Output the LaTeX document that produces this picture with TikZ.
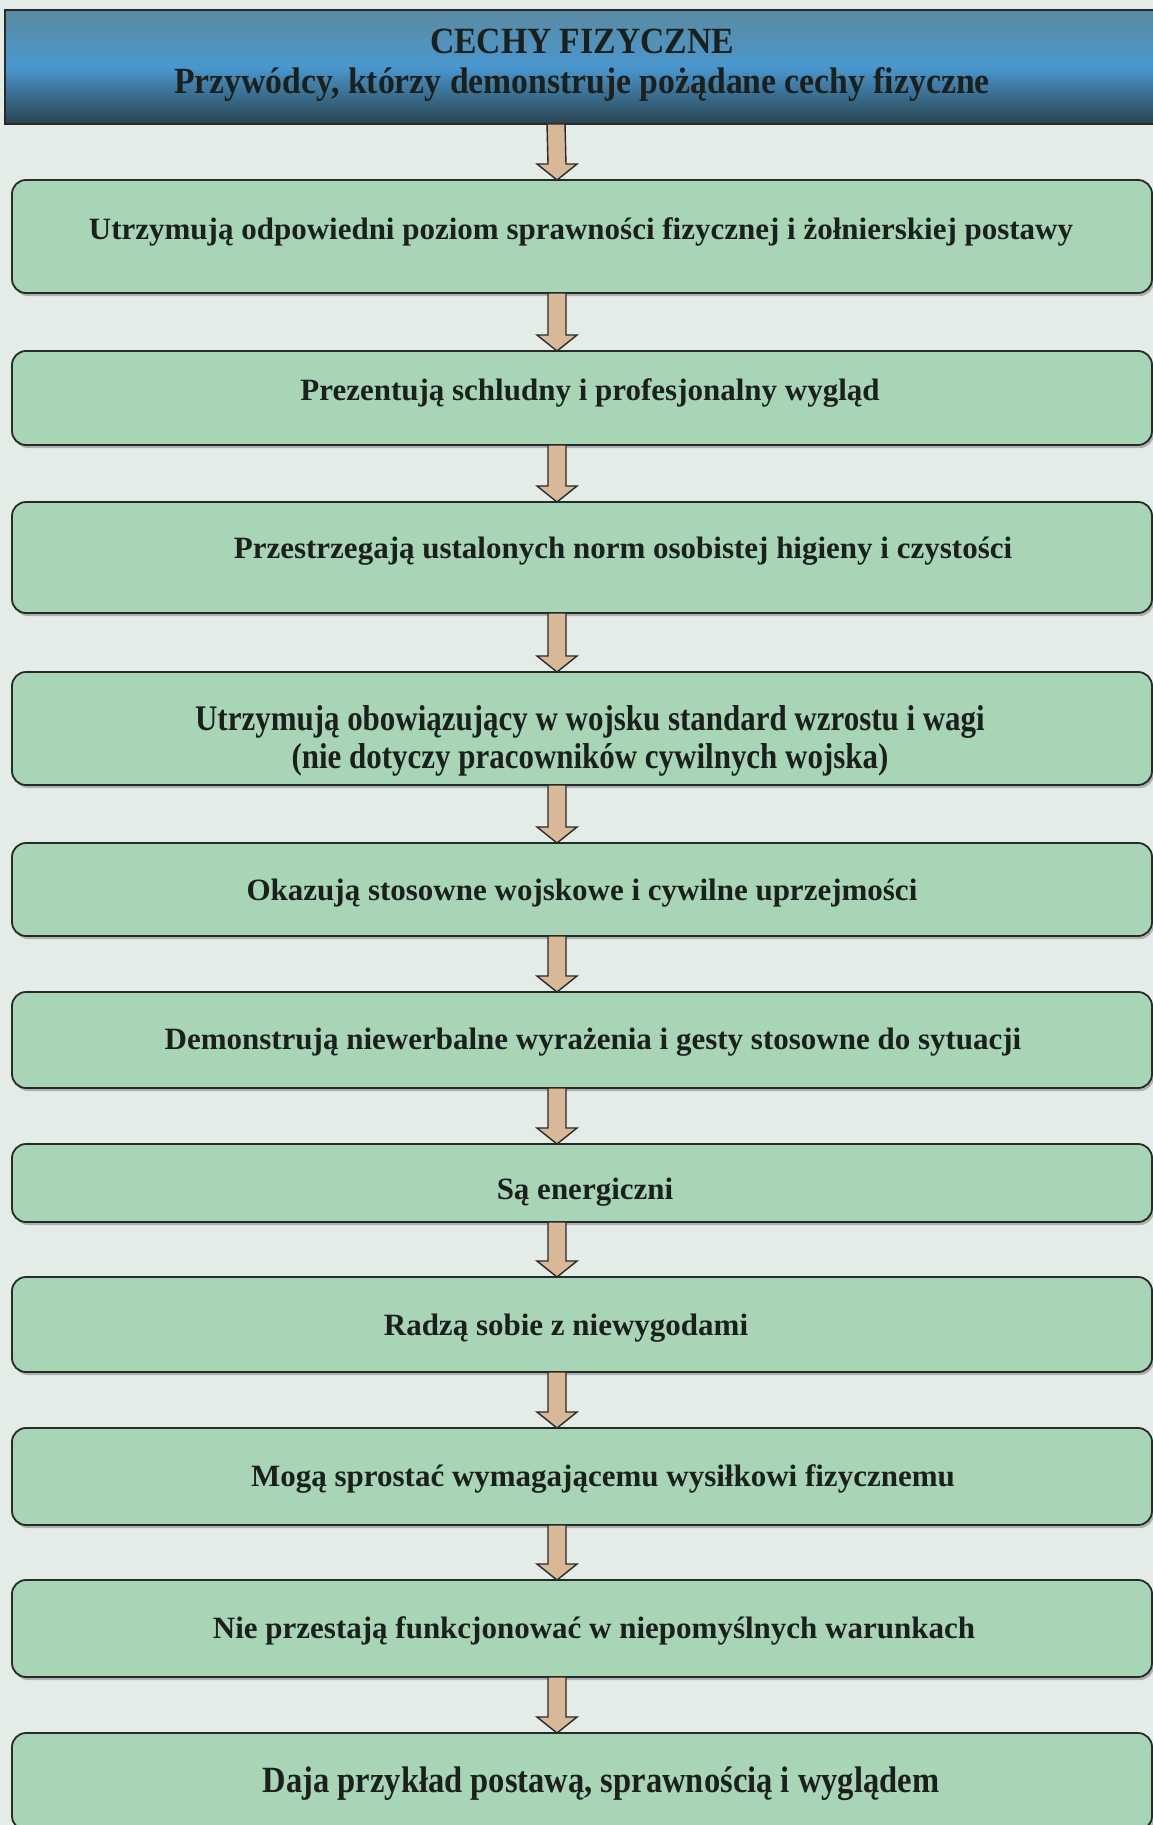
\documentclass[tikz,border=0pt]{standalone}
\usepackage{fontspec}
\setmainfont{Liberation Serif}
\newfontfamily\headfont{Liberation Serif}[FakeStretch=0.91]
\newfontfamily\narrowfont{Liberation Serif}[FakeStretch=0.86]
\newfontfamily\lastfont{Liberation Serif}[FakeStretch=0.88]
\usetikzlibrary{calc,shadows}

\definecolor{pagebg}{HTML}{E4ECE8}
\definecolor{boxgreen}{HTML}{A7D5B6}
\definecolor{edge}{HTML}{262A28}
\definecolor{arrowtan}{HTML}{D8B897}
\definecolor{ink}{HTML}{1C201D}
\definecolor{hdtop}{HTML}{5A8AA0}
\definecolor{hdmid}{HTML}{4A97CF}
\definecolor{hdbot}{HTML}{29434D}

\tikzset{
  headbox/.style={draw=edge, line width=1.8pt, top color=hdtop, bottom color=hdbot,
    middle color=hdmid, minimum width=1152pt, minimum height=114pt,
    inner sep=0pt, outer sep=0pt},
  stepbox/.style={draw=edge, line width=1.8pt, fill=boxgreen, rounded corners=14pt,
    minimum width=1140pt, inner sep=0pt, outer sep=0pt,
    drop shadow={shadow xshift=2pt, shadow yshift=-3pt, fill=black!50, opacity=0.55}},
  steptext/.style={font=\fontsize{31}{38}\selectfont\bfseries, text=ink,
    align=center, inner sep=0pt},
  headtext/.style={font=\headfont\fontsize{37}{40}\selectfont\bfseries, text=ink,
    align=center, inner sep=0pt},
  flow/.style={draw=edge, line width=1.4pt, fill=arrowtan, line join=miter},
}

% block arrow from the bottom of #1 to the top of #2
\newcommand\flowarrow[2]{%
  \path[flow]
    ($(#1.south)+(-34,0)$) -- ($(#2.north)+(-34,-16)$) --
    ($(#2.north)+(-45,-16)$) -- ($(#2.north)+(-25,0)$) --
    ($(#2.north)+(-5,-16)$) -- ($(#2.north)+(-16,-16)$) --
    ($(#1.south)+(-16,0)$) -- cycle;}

\begin{document}
\begin{tikzpicture}[x=1pt,y=-1pt]
\useasboundingbox (0,0) rectangle (1153,1825);
\clip (0,0) rectangle (1153,1825);
\fill[pagebg] (0,0) rectangle (1153,1825);

% title bar
\node[headbox] (hd) at (581,67) {};
\node[headtext] (ht) at (582,65.5)
  {CECHY FIZYCZNE\\Przywódcy, którzy demonstruje pożądane cechy fizyczne};

% steps
\node[stepbox, minimum height=113pt] (b1)  at (582,236.5)  {};
\node[stepbox, minimum height=94pt]  (b2)  at (582,398)    {};
\node[stepbox, minimum height=111pt] (b3)  at (582,557.5)  {};
\node[stepbox, minimum height=113pt] (b4)  at (582,728.5)  {};
\node[stepbox, minimum height=93pt]  (b5)  at (582,889.5)  {};
\node[stepbox, minimum height=96pt]  (b6)  at (582,1040)   {};
\node[stepbox, minimum height=78pt]  (b7)  at (582,1183)   {};
\node[stepbox, minimum height=95pt]  (b8)  at (582,1324.5) {};
\node[stepbox, minimum height=97pt]  (b9)  at (582,1476.5) {};
\node[stepbox, minimum height=97pt]  (b10) at (582,1628.5) {};
\node[stepbox, minimum height=97pt]  (b11) at (582,1781.5) {};

% labels
\node[steptext] (t1) at ($(b1)+(-1,-5)$)
  {Utrzymują odpowiedni poziom sprawności fizycznej i żołnierskiej postawy};
\node[steptext] (t2) at ($(b2)+(8,-4.5)$)
  {Prezentują schludny i profesjonalny wygląd};
\node[steptext] (t3) at ($(b3)+(41,-6.5)$)
  {Przestrzegają ustalonych norm osobistej higieny i czystości};
\node[steptext, font=\narrowfont\fontsize{36}{38}\selectfont\bfseries] (t4) at ($(b4)+(8,12.5)$)
  {Utrzymują obowiązujący w wojsku standard wzrostu i wagi\\(nie dotyczy pracowników cywilnych wojska)};
\node[steptext] (t5) at ($(b5)+(0,3.5)$)
  {Okazują stosowne wojskowe i cywilne uprzejmości};
\node[steptext] (t6) at ($(b6)+(11,2.5)$)
  {Demonstrują niewerbalne wyrażenia i gesty stosowne do sytuacji};
\node[steptext] (t7) at ($(b7)+(3,9.5)$)
  {Są energiczni};
\node[steptext] (t8) at ($(b8)+(-16,3.5)$)
  {Radzą sobie z niewygodami};
\node[steptext] (t9) at ($(b9)+(21,2.5)$)
  {Mogą sprostać wymagającemu wysiłkowi fizycznemu};
\node[steptext] (t10) at ($(b10)+(12,2.5)$)
  {Nie przestają funkcjonować w niepomyślnych warunkach};
\node[steptext, font=\lastfont\fontsize{37}{40}\selectfont\bfseries] (t11) at ($(b11)+(19,2.5)$)
  {Daja przykład postawą, sprawnością i wyglądem};

% connectors
\flowarrow{hd}{b1}
\flowarrow{b1}{b2}
\flowarrow{b2}{b3}
\flowarrow{b3}{b4}
\flowarrow{b4}{b5}
\flowarrow{b5}{b6}
\flowarrow{b6}{b7}
\flowarrow{b7}{b8}
\flowarrow{b8}{b9}
\flowarrow{b9}{b10}
\flowarrow{b10}{b11}
\end{tikzpicture}
\end{document}
